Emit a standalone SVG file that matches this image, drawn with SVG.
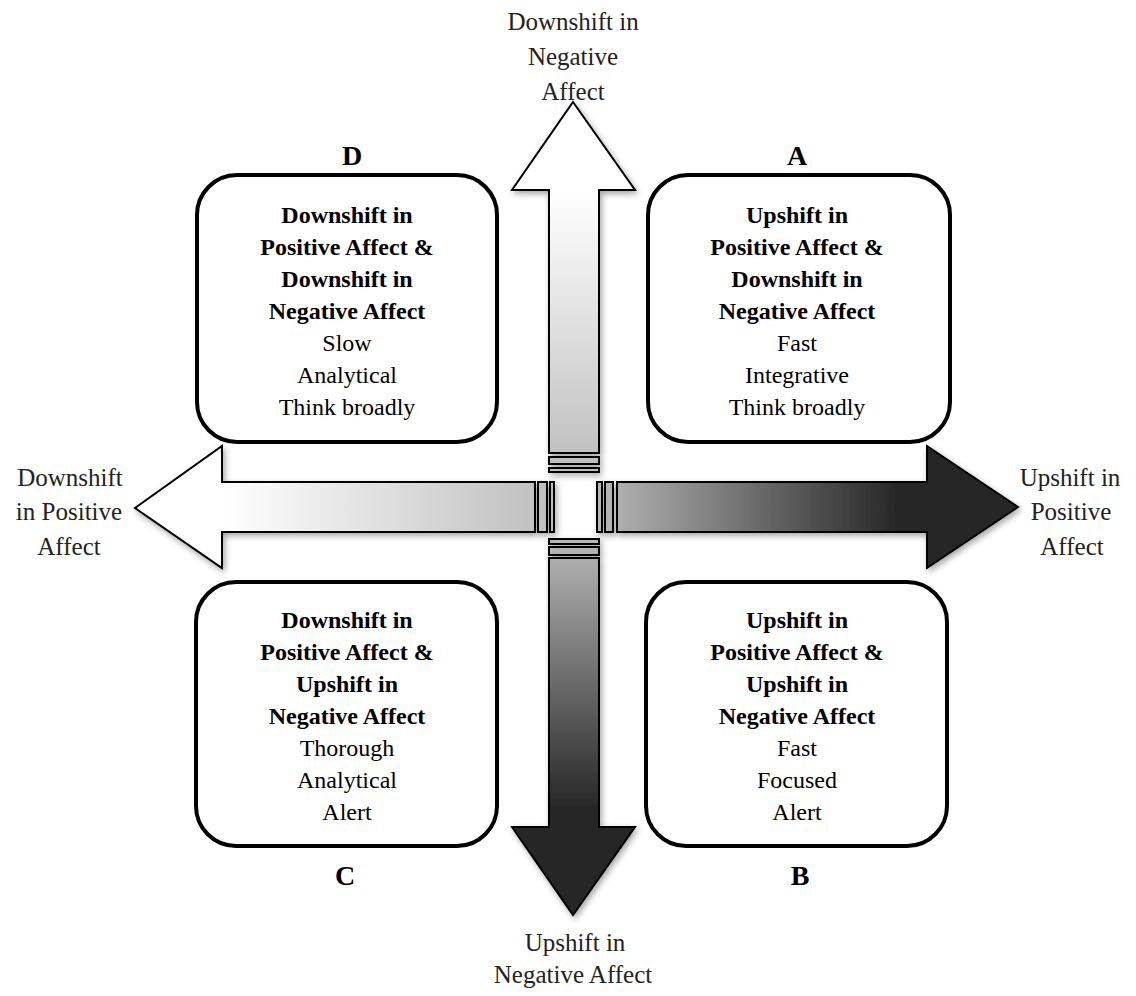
<svg xmlns="http://www.w3.org/2000/svg" width="1136" height="996" viewBox="0 0 1136 996">
<style>
.box{fill:#fff;stroke:#000;stroke-width:4}
.arr{stroke:#000;stroke-width:2;stroke-linejoin:miter}
.t{font-family:"Liberation Serif","Times New Roman",serif;font-size:24px;fill:#000;text-anchor:middle}
.b{font-weight:bold}
.lab{font-family:"Liberation Serif","Times New Roman",serif;font-size:28px;font-weight:bold;fill:#000;text-anchor:middle}
.ax{font-family:"Liberation Serif","Times New Roman",serif;font-size:25px;fill:#222;text-anchor:middle}
</style>
<defs>
<filter id="sh" x="-20%" y="-20%" width="140%" height="140%">
<feDropShadow dx="2" dy="3" stdDeviation="3" flood-color="#000" flood-opacity="0.35"/>
</filter>
<linearGradient id="gUp" gradientUnits="userSpaceOnUse" x1="0" y1="190" x2="0" y2="472">
<stop offset="0" stop-color="#ffffff"/><stop offset="1" stop-color="#bdbdbd"/>
</linearGradient>
<linearGradient id="gLeft" gradientUnits="userSpaceOnUse" x1="222" y1="0" x2="554" y2="0">
<stop offset="0" stop-color="#ffffff"/><stop offset="1" stop-color="#bdbdbd"/>
</linearGradient>
<linearGradient id="gRight" gradientUnits="userSpaceOnUse" x1="597" y1="0" x2="900" y2="0">
<stop offset="0" stop-color="#b8b8b8"/><stop offset="1" stop-color="#262626"/>
</linearGradient>
<linearGradient id="gDown" gradientUnits="userSpaceOnUse" x1="0" y1="539" x2="0" y2="810">
<stop offset="0" stop-color="#b8b8b8"/><stop offset="1" stop-color="#262626"/>
</linearGradient>
</defs>

<g id="connectors">
<g id="arrow-up" filter="url(#sh)">
<path class="arr" fill="url(#gUp)" d="M573,102 L635,190 L599,190 L599,453 L549,453 L549,190 L512,190 Z"/>
<rect class="arr" fill="url(#gUp)" x="549" y="457" width="50" height="7"/>
<rect class="arr" fill="url(#gUp)" x="549" y="468" width="50" height="4"/>
</g>
<g id="arrow-left" filter="url(#sh)">
<path class="arr" fill="url(#gLeft)" d="M135,508 L222,446 L222,482 L535,482 L535,532 L222,532 L222,568 Z"/>
<rect class="arr" fill="url(#gLeft)" x="538" y="482" width="9" height="50"/>
<rect class="arr" fill="url(#gLeft)" x="550" y="482" width="4" height="50"/>
</g>
<g id="arrow-right" filter="url(#sh)">
<rect class="arr" fill="url(#gRight)" x="597" y="482" width="5" height="50"/>
<rect class="arr" fill="url(#gRight)" x="605" y="482" width="8" height="50"/>
<path class="arr" fill="url(#gRight)" d="M617,482 L927,482 L927,446 L1018,507 L927,568 L927,532 L617,532 Z"/>
</g>
<g id="arrow-down" filter="url(#sh)">
<rect class="arr" fill="url(#gDown)" x="549" y="539" width="50" height="5"/>
<rect class="arr" fill="url(#gDown)" x="549" y="547" width="50" height="8"/>
<path class="arr" fill="url(#gDown)" d="M549,558 L599,558 L599,827 L635,827 L573,915 L512,827 L549,827 Z"/>
</g>
</g>

<g id="axis-labels">
<text class="ax" x="573" y="30">Downshift in</text>
<text class="ax" x="573" y="65">Negative</text>
<text class="ax" x="573" y="100">Affect</text>
<text class="ax" x="70" y="486">Downshift</text>
<text class="ax" x="69" y="520">in Positive</text>
<text class="ax" x="69" y="555">Affect</text>
<text class="ax" x="1070" y="486">Upshift in</text>
<text class="ax" x="1071" y="520">Positive</text>
<text class="ax" x="1072" y="555">Affect</text>
<text class="ax" x="575" y="951">Upshift in</text>
<text class="ax" x="573" y="983">Negative Affect</text>
</g>

<g id="node-D">
<text class="lab" x="352" y="165">D</text>
<rect class="box" x="197" y="175" width="300" height="267" rx="40"/>
<text class="t b" x="347" y="223">Downshift in</text>
<text class="t b" x="347" y="255">Positive Affect &amp;</text>
<text class="t b" x="347" y="287">Downshift in</text>
<text class="t b" x="347" y="319">Negative Affect</text>
<text class="t" x="347" y="351">Slow</text>
<text class="t" x="347" y="383">Analytical</text>
<text class="t" x="347" y="415">Think broadly</text>
</g>

<g id="node-A">
<text class="lab" x="797" y="165">A</text>
<rect class="box" x="648" y="175" width="302" height="267" rx="40"/>
<text class="t b" x="797" y="223">Upshift in</text>
<text class="t b" x="797" y="255">Positive Affect &amp;</text>
<text class="t b" x="797" y="287">Downshift in</text>
<text class="t b" x="797" y="319">Negative Affect</text>
<text class="t" x="797" y="351">Fast</text>
<text class="t" x="797" y="383">Integrative</text>
<text class="t" x="797" y="415">Think broadly</text>
</g>

<g id="node-C">
<rect class="box" x="196" y="582" width="301" height="264" rx="40"/>
<text class="t b" x="347" y="628">Downshift in</text>
<text class="t b" x="347" y="660">Positive Affect &amp;</text>
<text class="t b" x="347" y="692">Upshift in</text>
<text class="t b" x="347" y="724">Negative Affect</text>
<text class="t" x="347" y="756">Thorough</text>
<text class="t" x="347" y="788">Analytical</text>
<text class="t" x="347" y="820">Alert</text>
<text class="lab" x="345" y="885">C</text>
</g>

<g id="node-B">
<rect class="box" x="646" y="582" width="301" height="264" rx="40"/>
<text class="t b" x="797" y="628">Upshift in</text>
<text class="t b" x="797" y="660">Positive Affect &amp;</text>
<text class="t b" x="797" y="692">Upshift in</text>
<text class="t b" x="797" y="724">Negative Affect</text>
<text class="t" x="797" y="756">Fast</text>
<text class="t" x="797" y="788">Focused</text>
<text class="t" x="797" y="820">Alert</text>
<text class="lab" x="800" y="885">B</text>
</g>
</svg>
